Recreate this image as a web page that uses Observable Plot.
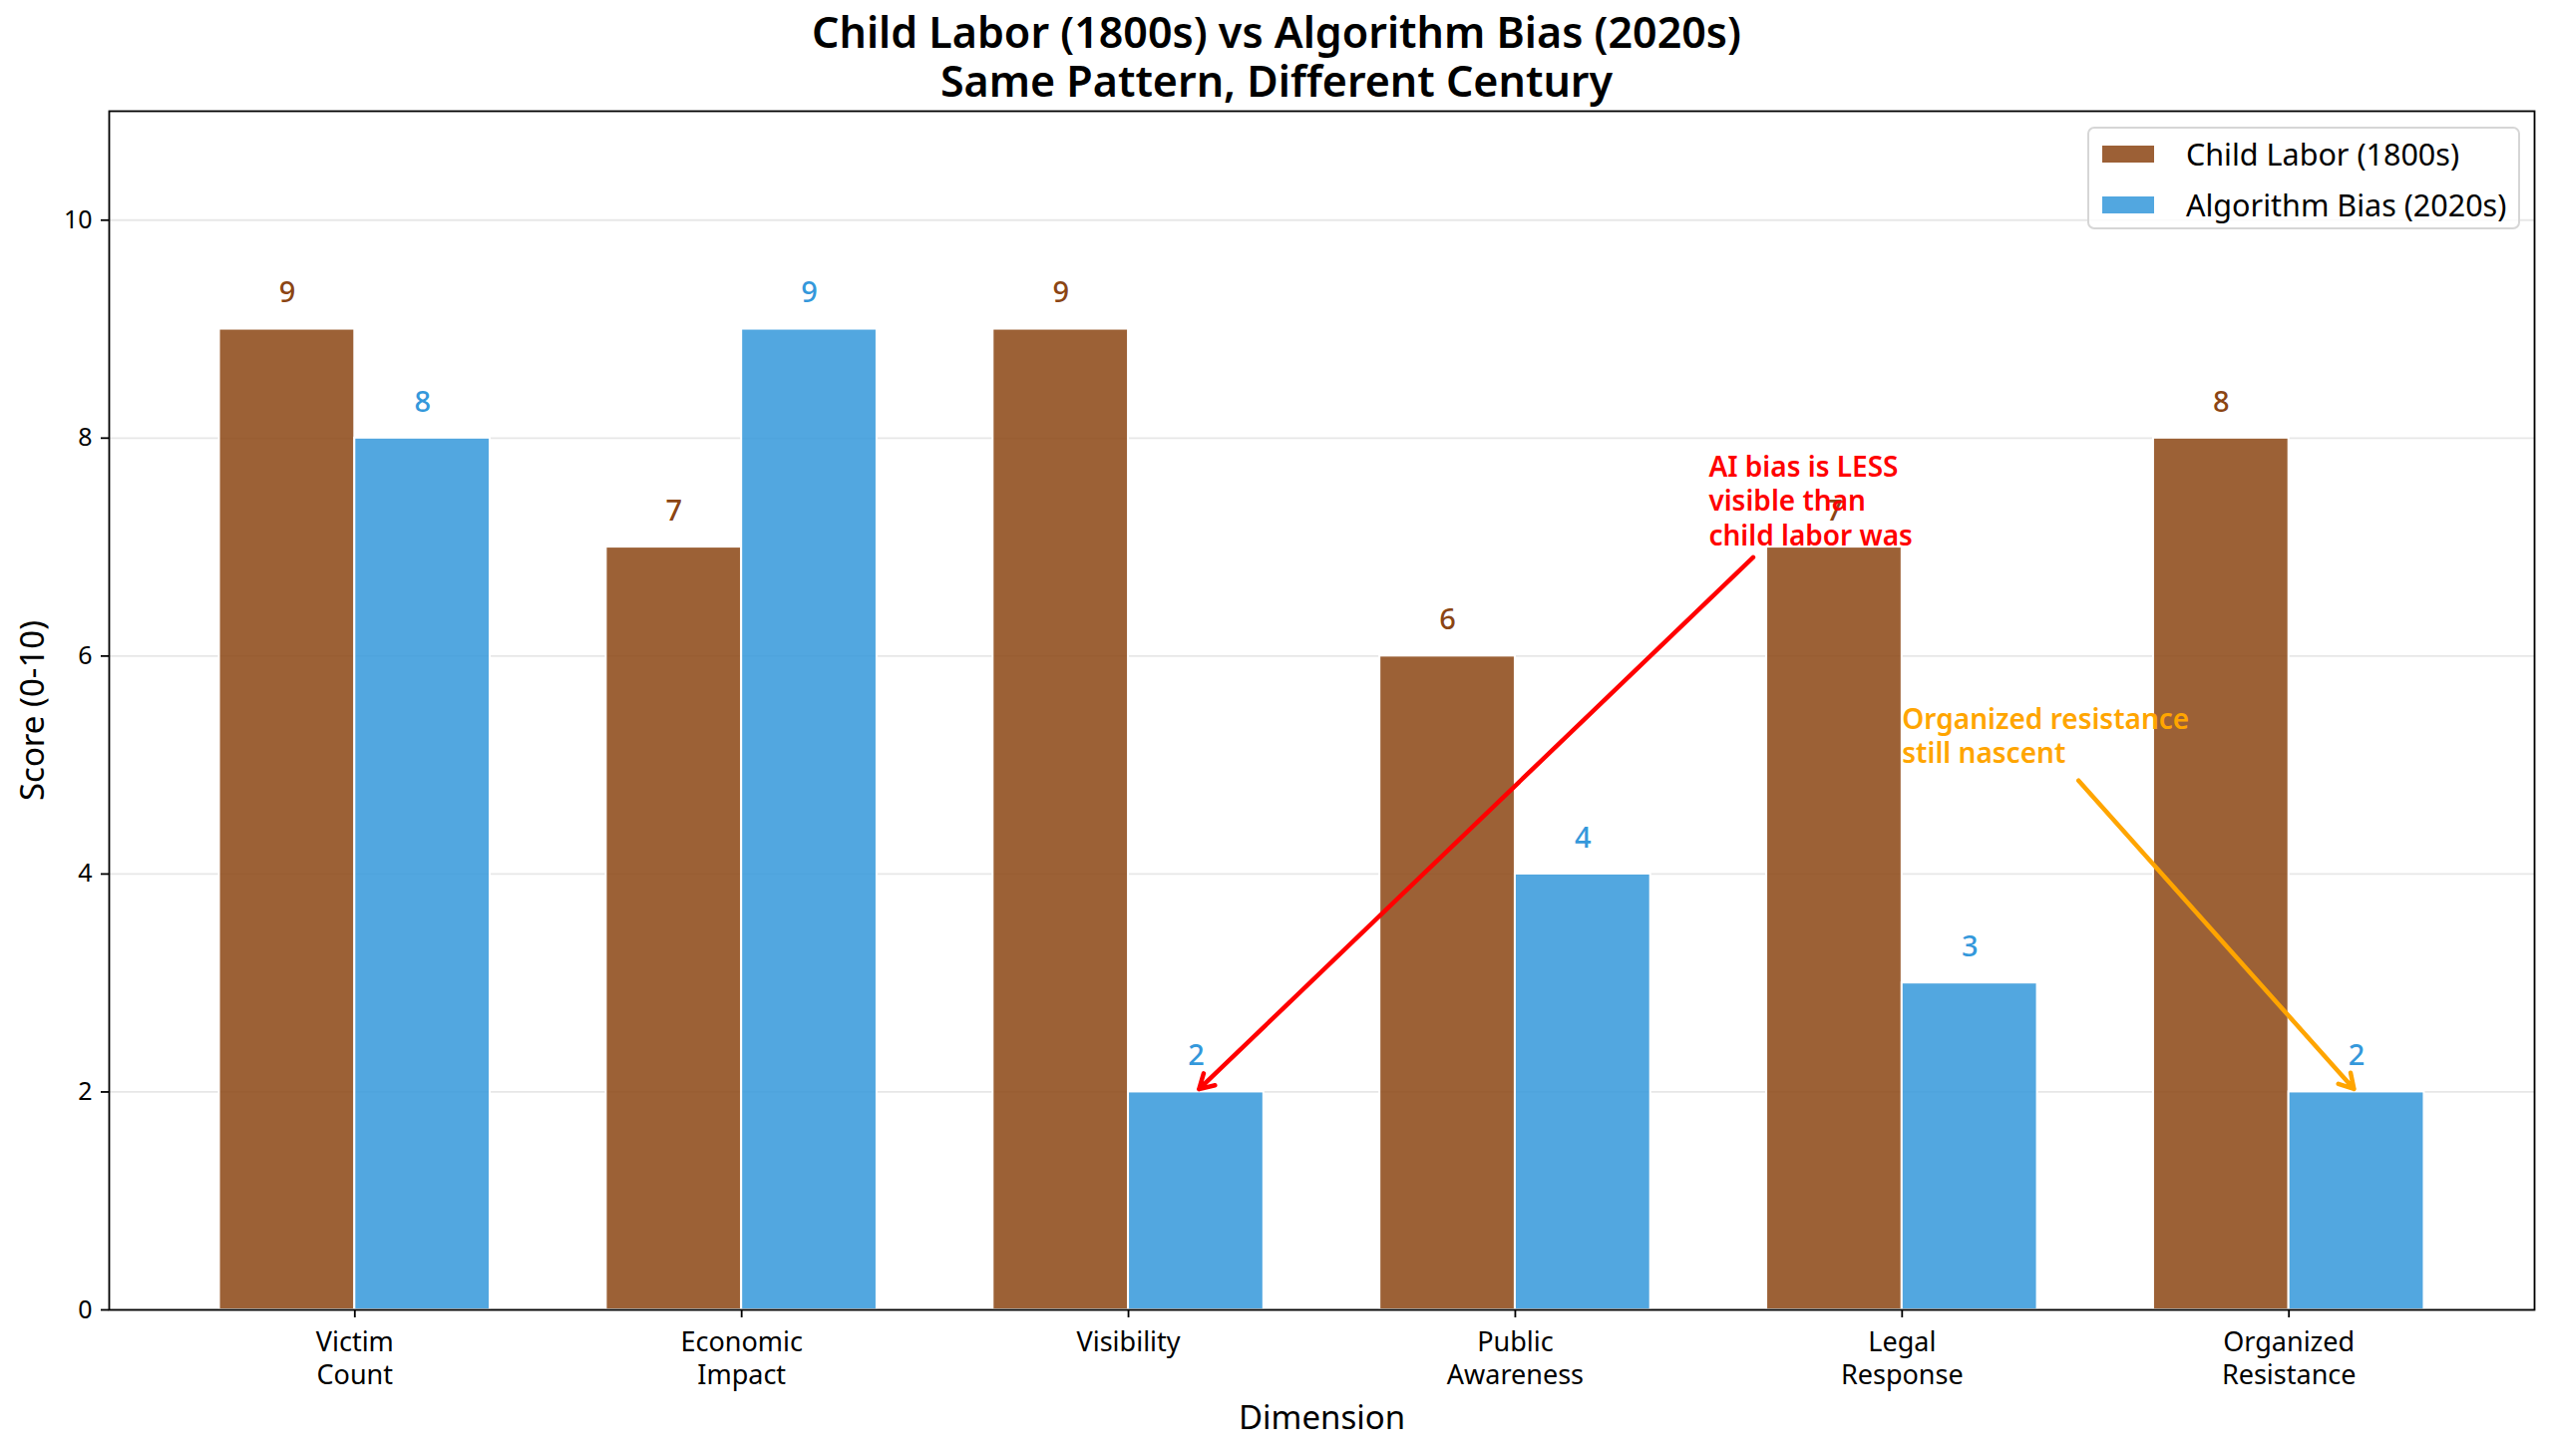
<!DOCTYPE html>
<html><head><meta charset="utf-8">
<script src="https://cdn.jsdelivr.net/npm/d3@7"></script>
<script src="https://cdn.jsdelivr.net/npm/@observablehq/plot@0.6"></script>
<style>
body{margin:0;background:#fff;font-family:"Noto Sans",sans-serif;color:#000;}
#wrap{position:relative;width:2560px;height:1460px;overflow:hidden;}
#title{height:100px;text-align:center;font-weight:600;font-size:43px;line-height:49px;padding-top:7px;box-sizing:border-box;}
#title div{height:49px;overflow:visible;}
#legend{position:absolute;left:2093px;top:127px;width:434px;height:103px;border:2px solid #d6d6d6;border-radius:7px;background:rgba(255,255,255,0.8);box-sizing:border-box;font-size:30.5px;}
.row{position:absolute;left:12px;height:38px;display:flex;align-items:center;}
.sw{width:54px;height:19px;margin-right:31px;box-sizing:border-box;border:1.5px solid #fff;}
svg{display:block;}
</style></head>
<body><div id="wrap">
<div id="title"><div>Child Labor (1800s) vs Algorithm Bias (2020s)</div><div>Same Pattern, Different Century</div></div>
<div id="chart"></div>
<div id="legend"></div>
</div>
<script>
const categories = ["Victim\nCount","Economic\nImpact","Visibility","Public\nAwareness","Legal\nResponse","Organized\nResistance"];
const childLabor = [9,7,9,6,7,8];
const algorithmBias = [8,9,2,4,3,2];
const seriesNames = ["Child Labor (1800s)","Algorithm Bias (2020s)"];
const seriesColors = ["#8B4513","#3498db"];
const yTicks = [0,2,4,6,8,10];
const annotations = [
  {text:"AI bias is LESS\nvisible than\nchild labor was", tx:3.5, ty:7, fx:3.76, fy:7.40, x:2.175, y:2, color:"red", inset:78},
  {text:"Organized resistance\nstill nascent", tx:4.0, ty:5, fx:4.36, fy:5.24, x:5.175, y:2, color:"orange", inset:56}
];

const bw = 0.35;
const rows = [];
categories.forEach((c,i)=>{
  rows.push({i, s:0, x1:i-bw, x2:i, v:childLabor[i]});
  rows.push({i, s:1, x1:i, x2:i+bw, v:algorithmBias[i]});
});
const n = categories.length;
const pad = ((n-1) + 2*bw)*0.05;

const chart = Plot.plot({
  width:2560, height:1360,
  marginTop:11, marginBottom:147, marginLeft:109, marginRight:19,
  style:{fontFamily:'"Noto Sans",sans-serif', background:"white", color:"black"},
  x:{domain:[-bw-pad, n-1+bw+pad]},
  y:{domain:[0,11]},
  marks:[
    Plot.ruleY(yTicks, {stroke:"#b0b0b0", strokeOpacity:0.3, strokeWidth:1.8}),
    Plot.rect(rows, {x1:"x1", x2:"x2", y1:0, y2:"v", fill:d=>seriesColors[d.s], fillOpacity:0.85, stroke:"white", strokeWidth:2}),
    Plot.text(rows, {x:d=>(d.x1+d.x2)/2, y:"v", text:d=>String(d.v), fill:d=>seriesColors[d.s], fontSize:29, fontWeight:500, dy:-36, lineAnchor:"middle"}),
    Plot.axisX({ticks:d3.range(n), tickFormat:i=>categories[i], tickSize:8, tickPadding:10, fontSize:27, lineHeight:1.22, label:null, strokeWidth:1.8}),
    Plot.axisY({ticks:yTicks, tickSize:8, tickPadding:9, fontSize:25, label:null, strokeWidth:1.8}),
    Plot.text(["Dimension"], {frameAnchor:"bottom", dy:109, fontSize:33, lineAnchor:"middle"}),
    Plot.text(["Score (0-10)"], {frameAnchor:"left", textAnchor:"middle", dx:-76, rotate:-90, fontSize:33, lineAnchor:"middle"}),
    ...annotations.map(a=>Plot.arrow([a], {x1:"fx", y1:"fy", x2:"x", y2:"y", stroke:a.color, strokeWidth:4.5, headLength:5.5, headAngle:60, insetStart:a.inset, insetEnd:4})),
    Plot.text(annotations, {x:"tx", y:"ty", text:"text", fill:"color", textAnchor:"start", lineAnchor:"bottom", fontSize:28, fontWeight:600, lineHeight:1.22, dy:-2}),
    Plot.frame({stroke:"black", strokeWidth:1.8})
  ]
});
document.getElementById("chart").appendChild(chart);

const lg = document.getElementById("legend");
seriesNames.forEach((s,k)=>{
  const r = document.createElement("div");
  r.className="row"; r.style.top = (6 + k*51) + "px";
  const sw = document.createElement("div"); sw.className="sw";
  sw.style.background = seriesColors[k]; sw.style.opacity = 0.85;
  r.appendChild(sw);
  const t = document.createElement("span"); t.textContent = s; r.appendChild(t);
  lg.appendChild(r);
});
</script>
</body></html>
